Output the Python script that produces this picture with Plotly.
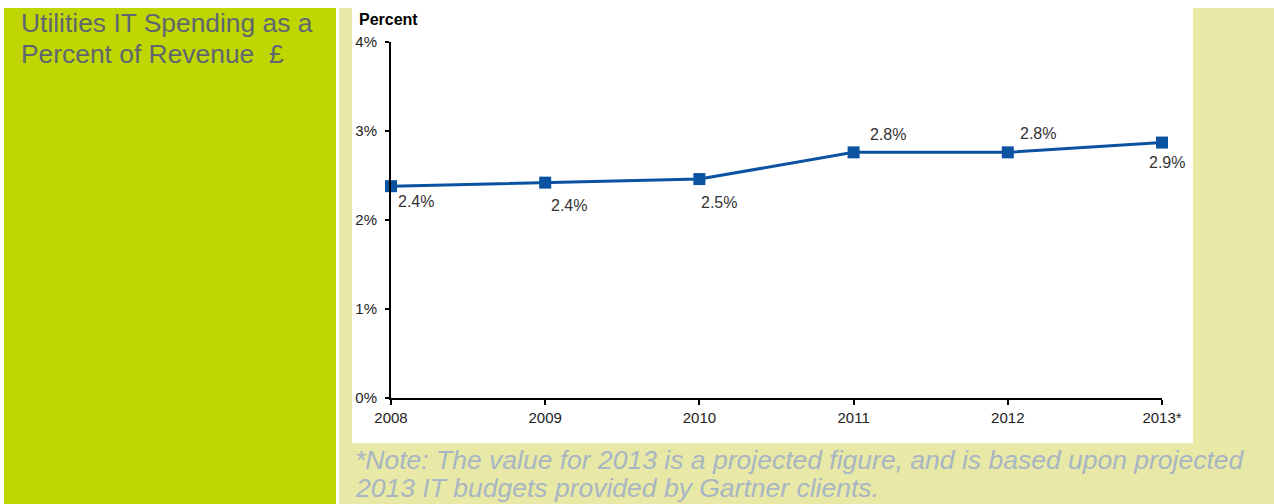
import plotly.graph_objects as go

years = [2008, 2009, 2010, 2011, 2012, 2013]
year_labels = ["2008", "2009", "2010", "2011", "2012", "2013*"]
values = [2.38, 2.42, 2.46, 2.76, 2.76, 2.87]
value_labels = ["2.4%", "2.4%", "2.5%", "2.8%", "2.8%", "2.9%"]
y_ticks = [0, 1, 2, 3, 4]
y_tick_labels = ["0%", "1%", "2%", "3%", "4%"]

title_lines = ["Utilities IT Spending as a", "Percent of Revenue  £"]
note_lines = ["*Note: The value for 2013 is a projected figure, and is based upon projected",
              "2013 IT budgets provided by Gartner clients."]

# label offsets (pixels) relative to each point
label_dx = [5, 4, 0, 14, 10, -15]
label_dy = [-15, -23, -23, 18, 19, -20]

W, H = 1274, 504
FONT = "Liberation Sans, Arial, sans-serif"
LINE = "#0B52A0"

def px(x):
    return x / W

def py(y):
    return 1 - y / H

fig = go.Figure()
fig.add_trace(go.Scatter(
    x=years, y=values, mode="lines+markers",
    line=dict(color=LINE, width=3),
    marker=dict(symbol="square", size=12, color=LINE),
    cliponaxis=False, showlegend=False, hoverinfo="skip",
))

shapes = [
    dict(type="rect", xref="paper", yref="paper", x0=px(4), x1=px(336), y0=0, y1=py(8),
         fillcolor="#BFD600", line_width=0, layer="below"),
    dict(type="rect", xref="paper", yref="paper", x0=px(339), x1=1, y0=0, y1=py(8),
         fillcolor="#E8E9A6", line_width=0, layer="below"),
    dict(type="rect", xref="paper", yref="paper", x0=px(352), x1=px(1193), y0=py(443), y1=py(8),
         fillcolor="#FFFFFF", line_width=0, layer="below"),
]

annotations = []
for i, (yr, v, t) in enumerate(zip(years, values, value_labels)):
    annotations.append(dict(x=yr, y=v, xref="x", yref="y", text=t, showarrow=False,
                            xanchor="left", yanchor="middle",
                            xshift=label_dx[i], yshift=label_dy[i],
                            font=dict(family=FONT, size=16, color="#333333")))

annotations.append(dict(x=px(357), y=py(20), xref="paper", yref="paper", text="<b>Percent</b>",
                        showarrow=False, xanchor="left", yanchor="middle",
                        font=dict(family=FONT, size=16, color="#000000")))

for j, line in enumerate(title_lines):
    annotations.append(dict(x=px(19), y=py(23 + 31 * j), xref="paper", yref="paper", text=line,
                            showarrow=False, xanchor="left", yanchor="middle",
                            font=dict(family=FONT, size=26.4, color="#5F6670")))

for j, line in enumerate(note_lines):
    annotations.append(dict(x=px(353), y=py(460 + 28 * j), xref="paper", yref="paper", text=line,
                            showarrow=False, xanchor="left", yanchor="middle",
                            font=dict(family=FONT, size=26.5, color="#A8B5C4", style="italic")))

fig.update_layout(
    width=W, height=H,
    margin=dict(l=0, r=0, t=0, b=0, autoexpand=False),
    paper_bgcolor="#FFFFFF",
    plot_bgcolor="rgba(0,0,0,0)",
    shapes=shapes,
    annotations=annotations,
    xaxis=dict(domain=[px(391), px(1162)], range=[2008, 2013], automargin=False,
               tickmode="array", tickvals=years, ticktext=year_labels,
               showgrid=False, zeroline=False, showline=True, linecolor="#000000", linewidth=2,
               ticks="outside", ticklen=5, tickwidth=2, tickcolor="#000000",
               tickfont=dict(family=FONT, size=15, color="#222222")),
    yaxis=dict(domain=[py(398), py(42)], range=[0, 4], automargin=False,
               tickmode="array", tickvals=y_ticks, ticktext=y_tick_labels,
               showgrid=False, zeroline=False, showline=True, linecolor="#000000", linewidth=2,
               ticks="outside", ticklen=4, tickwidth=2, tickcolor="#000000",
               ticklabelstandoff=5,
               tickfont=dict(family=FONT, size=15, color="#222222")),
)

fig.write_html("out.html")
